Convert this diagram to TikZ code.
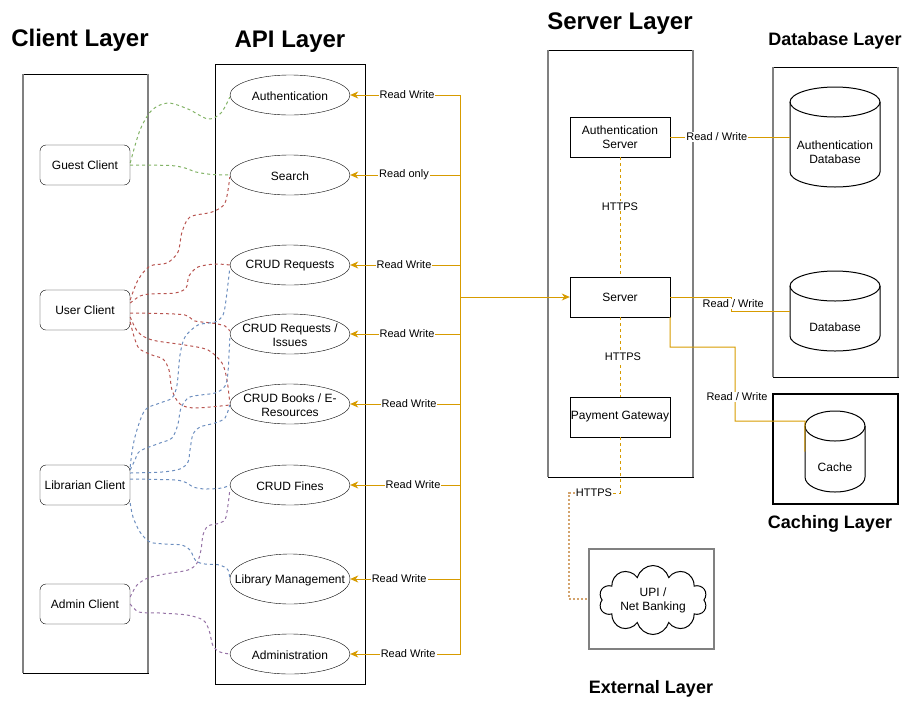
\documentclass[tikz,border=0pt]{standalone}
\usepackage{fontspec}
\setmainfont{Liberation Sans}
\usetikzlibrary{shapes.geometric,shapes.symbols,arrows.meta,calc}
\definecolor{busc}{HTML}{D79B00}
\definecolor{grnc}{HTML}{82B366}
\definecolor{redc}{HTML}{B85450}
\definecolor{bluc}{HTML}{6C8EBF}
\definecolor{purc}{HTML}{9673A6}
\definecolor{extc}{HTML}{D4A46E}
\definecolor{layg}{HTML}{808080}
\newcommand\nodefont{\fontsize{12}{14}\selectfont}
\newcommand\labfont{\fontsize{11}{13}\selectfont}
\tikzset{
  client/.style={draw, rounded corners=6pt, minimum width=90pt, minimum height=40pt, inner sep=0, font=\nodefont, align=center},
  api/.style={draw, ellipse, minimum width=120pt, minimum height=40pt, inner sep=0},
  apitext/.style={font=\nodefont, align=center, yshift=-1pt},
  srv/.style={draw, rectangle, minimum width=100pt, minimum height=40pt, inner sep=0, font=\nodefont, align=center},
  txt/.style={font=\nodefont, align=center},
  bigtitle/.style={font=\bfseries\fontsize{24}{28}\selectfont},
  subtitle/.style={font=\bfseries\fontsize{18}{22}\selectfont},
  lbl/.style={fill=white, inner sep=1pt, font=\labfont},
  bus/.style={draw=busc, line width=1pt},
  busarrow/.style={bus, -{Stealth[length=8pt,width=7pt,inset=2.5pt]}},
  srvdash/.style={draw=busc, line width=1pt, dash pattern=on 3pt off 3pt},
  extdot/.style={draw=extc, line width=2pt, dash pattern=on 2pt off 2pt},
  link/.style={line width=1pt, dash pattern=on 3pt off 3pt, smooth, tension=0.5},
  grn/.style={link, draw=grnc},
  rd/.style={link, draw=redc},
  bl/.style={link, draw=bluc},
  pu/.style={link, draw=purc},
}
\begin{document}
\begin{tikzpicture}[x=1pt,y=-1pt]
\useasboundingbox (0,0) rectangle (915,705);

% ---------- layer boxes ----------
\draw[line width=1pt] (23,74) rectangle (148,673);
\draw[layg, line width=2pt] (23,74) -- (23,673) (148,74) -- (148,673);
\draw[line width=1pt] (215,64) rectangle (365,684);
\draw[line width=1pt] (548,50) rectangle (693,477);
\draw[layg, line width=2pt] (548,50) -- (548,477) (693,50) -- (693,477);
\draw[line width=1pt] (773,67) rectangle (898,377);
\draw[layg, line width=2pt] (773,67) -- (773,377) (898,67) -- (898,377);
\draw[line width=1.2pt] (773,394) rectangle (898,504);
\node[draw=layg, line width=2pt, minimum width=125pt, minimum height=100pt, inner sep=0] (extbox) at (651.5,599) {};

% ---------- titles ----------
\node[bigtitle] at (80,40) {Client Layer};
\node[bigtitle] at (290,42) {API Layer};
\node[bigtitle] at (620,24) {Server Layer};
\node[subtitle] at (835,41) {Database Layer};
\node[subtitle] at (830,524) {Caching Layer};
\node[subtitle] at (651,689) {External Layer};

% ---------- clients ----------
\node[client] (guest) at (85,165) {Guest Client};
\node[client] (user) at (85,310) {User Client};
\node[client] (librarian) at (85,485) {Librarian Client};
\node[client] (admin) at (85,604) {Admin Client};

% ---------- API ellipses ----------
\node[api, label={[apitext]center:Authentication}] (auth) at (290,95) {};
\node[api, label={[apitext]center:Search}] (search) at (290,175) {};
\node[api, label={[apitext]center:CRUD Requests}] (crudreq) at (290,265) {};
\node[api, label={[apitext]center:{CRUD Requests /\\Issues}}] (crudiss) at (290,334) {};
\node[api, label={[apitext]center:{CRUD Books / E-\\Resources}}] (crudbooks) at (290,404) {};
\node[api, label={[apitext]center:CRUD Fines}] (fines) at (290,485) {};
\node[api, minimum height=50pt, label={[apitext]center:Library Management}] (libmgmt) at (290,579) {};
\node[api, label={[apitext]center:Administration}] (administration) at (290,654) {};

% ---------- servers ----------
\node[srv] (authsrv) at (620,137) {Authentication\\Server};
\node[srv] (server) at (620,297) {Server};
\node[srv] (payment) at (620,417) {Payment Gateway};

% ---------- cylinders ----------
\node[minimum width=90pt, minimum height=100pt, inner sep=0] (authdb) at (835,137) {};
\draw[line width=1pt, fill=white] (790,102) -- (790,172) arc[start angle=180, end angle=360, x radius=45pt, y radius=15pt] -- (880,102) arc[start angle=0, end angle=180, x radius=45pt, y radius=15pt] -- cycle;
\draw[line width=1pt] (790,102) arc[start angle=180, end angle=360, x radius=45pt, y radius=15pt];
\node[txt] at (835,152) {Authentication\\Database};

\node[minimum width=90pt, minimum height=80pt, inner sep=0] (db) at (835,311) {};
\draw[line width=1pt, fill=white] (790,286) -- (790,336) arc[start angle=180, end angle=360, x radius=45pt, y radius=15pt] -- (880,286) arc[start angle=0, end angle=180, x radius=45pt, y radius=15pt] -- cycle;
\draw[line width=1pt] (790,286) arc[start angle=180, end angle=360, x radius=45pt, y radius=15pt];
\node[txt] at (835,327) {Database};

\node[minimum width=60pt, minimum height=81pt, inner sep=0] (cache) at (835,451.5) {};
\draw[line width=1pt, fill=white] (805,426) -- (805,477) arc[start angle=180, end angle=360, x radius=30pt, y radius=15pt] -- (865,426) arc[start angle=0, end angle=180, x radius=30pt, y radius=15pt] -- cycle;
\draw[line width=1pt] (805,426) arc[start angle=180, end angle=360, x radius=30pt, y radius=15pt];
\node[txt] at (835,467) {Cache};

% ---------- cloud ----------
\node[cloud, draw, line width=1pt, cloud puffs=10, aspect=1.6, minimum width=108pt, minimum height=69pt, inner sep=0,
      label={[txt]center:{UPI /\\Net Banking}}] (cloud) at (653,600) {};

% ---------- orange bus ----------
\coordinate (hub) at (460,297);
\draw[busarrow] (hub) |- (auth.east) node[lbl, pos=0.741] {Read Write};
\draw[busarrow] (hub) |- (search.east) node[lbl, pos=0.755] {Read only};
\draw[busarrow] (hub) |- (crudreq.east) node[lbl, pos=0.755] {Read Write};
\draw[busarrow] (hub) |- (crudiss.east) node[lbl, pos=0.741] {Read Write};
\draw[busarrow] (hub) |- (crudbooks.east) node[lbl, pos=0.732] {Read Write};
\draw[busarrow] (hub) |- (fines.east) node[lbl, pos=0.714] {Read Write};
\draw[busarrow] (hub) |- (libmgmt.east) node[lbl, pos=0.777] {Read Write};
\draw[busarrow] (hub) |- (administration.east) node[lbl, pos=0.736] {Read Write};
\draw[busarrow] (hub) -- (server.west);

% ---------- server links ----------
\draw[srvdash] (authsrv.south) -- (server.north) node[lbl, pos=0.41] {HTTPS};
\draw[srvdash] (server.south) -- (payment.north) node[lbl, pos=0.5, xshift=3pt] {HTTPS};
\node[lbl] (h3) at (594,493) {HTTPS};
\draw[srvdash] (payment.south) |- (h3.east);
\draw[extdot] (h3.west) -- (569,493) |- (extbox.west);

\draw[bus] (authsrv.east) -- (authdb.west) node[lbl, pos=0.39] {Read / Write};
\draw[bus] (server.east) -- ++(61,0) |- node[lbl, pos=0.25, xshift=2pt] {Read / Write} (db.west);
\draw[bus] (server.south east) |- (735,347) |- (805,421) -- (cache.west);
\node[lbl] at (737,397) {Read / Write};

% ---------- client to API links ----------
\draw[grn] plot coordinates {([yshift=2pt]guest.east) (140,130) (152,110) (168,103) (188,109) (208,119) (221,113) ([yshift=-2pt]auth.west)};
\draw[grn] plot coordinates {(guest.east) (170,165.5) (185,168) (196,172) (212,174.5) (search.west)};

\draw[rd] plot coordinates {([yshift=10pt]user.east) (138,280) (150,266) (167,263) (178,252) (182,232) (190,217) (212,212) (225,203) ([yshift=-2pt]search.west)};
\draw[rd] plot coordinates {([yshift=7pt]user.east) (140,296) (150,294) (175,293) (186,288) (189,276) (198,267) (215,264) (crudreq.west)};
\draw[rd] plot coordinates {([yshift=-3pt]user.east) (160,313.5) (185,315) (195,321) (212,323) (225,326) ([yshift=3pt]crudiss.west)};
\draw[rd] plot coordinates {([yshift=-7pt]user.east) (138,332) (152,340) (185,345) (208,350) (222,363) (227,380) ([yshift=1pt]crudbooks.west)};
\draw[rd] plot coordinates {([yshift=-12pt]user.east) (138,347) (152,355) (163,359) (169,370) (172,390) (180,404) (195,408) ([yshift=-1pt]crudbooks.west)};

\draw[bl] plot coordinates {([yshift=18pt]librarian.east) (132,452) (136,433) (145,410) (160,403) (172,398) (177,385) (180,355) (185,337) (198,325) (215,322) (223,315) (226,300) ([yshift=-3pt]crudreq.west)};
\draw[bl] plot coordinates {([yshift=15pt]librarian.east) (135,460) (140,451) (160,443) (172,438) (178,424) (181,408) (190,397) (215,393) (225,386) (228,372) ([yshift=-4pt]crudiss.west)};
\draw[bl] plot coordinates {([yshift=12pt]librarian.east) (162,472) (180,469) (188,462) (190,450) (193,434) (200,427) (215,423) (225,418) ([yshift=-1pt]crudbooks.west)};
\draw[bl] plot coordinates {([yshift=6pt]librarian.east) (175,480) (187,483) (193,487) (205,489) (222,488) (fines.west)};
\draw[bl] plot coordinates {([yshift=-18pt]librarian.east) (133,517) (140,532) (150,542) (165,544) (182,545) (190,550) (196,561) (205,564) (220,565) (228,570) (libmgmt.west)};

\draw[pu] plot coordinates {([yshift=7pt]admin.east) (137,585) (148,578) (165,574) (188,570) (197,563) (201,550) (203,535) (208,526) (220,523) (226,517) ([yshift=-5pt]fines.west)};
\draw[pu] plot coordinates {(admin.east) (139,612) (160,613) (187,615) (203,620) (209,630) (213,646) (220,652) (administration.west)};
\end{tikzpicture}
\end{document}
